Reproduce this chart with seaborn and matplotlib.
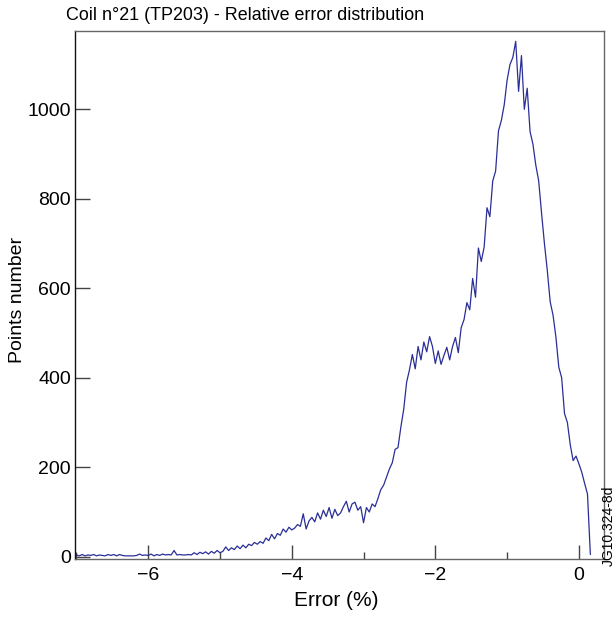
import numpy as np
import pandas as pd
import matplotlib
matplotlib.use("Agg")
import matplotlib.pyplot as plt
import seaborn as sns
from matplotlib.ticker import MultipleLocator
from matplotlib import font_manager

# ---- data (bin start, bin step, counts) ----
bin_start = -7.0
bin_step = 0.04
counts = [
    4, 2, 5, 2, 4, 3, 5, 2, 4, 3,            # -7.00 .. -6.64
    2, 5, 3, 5, 2, 5, 3, 2, 2, 2,            # -6.60 .. -6.24
    2, 3, 6, 3, 4, 3, 6, 2, 5, 3,            # -6.20 .. -5.84
    6, 4, 5, 4, 14, 4, 5, 4, 4, 5,           # -5.80 .. -5.44
    4, 9, 5, 10, 7, 11, 6, 12, 8, 14,        # -5.40 .. -5.04
    9, 12, 22, 14, 20, 16, 24, 18, 26, 20,   # -5.00 .. -4.64
    28, 25, 32, 28, 34, 30, 42, 36, 50, 40,  # -4.60 .. -4.24
    52, 48, 62, 55, 66, 60, 64, 72, 68, 96,  # -4.20 .. -3.84
    62, 80, 88, 78, 98, 84, 104, 90, 110, 86,        # -3.80 .. -3.44
    106, 92, 98, 112, 124, 100, 118, 122, 104, 112,  # -3.40 .. -3.04
    76, 110, 100, 118, 112, 130, 150, 160, 178, 196, # -3.00 .. -2.64
    210, 240, 244, 290, 330, 390, 418, 452, 420, 470,  # -2.60 .. -2.24
    440, 480, 458, 492, 470, 432, 460, 430, 450, 468,  # -2.20 .. -1.84
    440, 470, 490, 456, 512, 530, 568, 552, 622, 580,  # -1.80 .. -1.44
    690, 660, 692, 780, 760, 840, 862, 952, 975, 1010, # -1.40 .. -1.04
    1065, 1100, 1116, 1152, 1040, 1120, 1000, 1047, 950, 922,  # -1.00 .. -0.64
    875, 840, 768, 700, 640, 570, 540, 491, 424, 400,  # -0.60 .. -0.24
    320, 300, 250, 215, 225, 208, 189, 164, 140, 5,    # -0.20 .. 0.16
]
errors = np.round(bin_start + bin_step * np.arange(len(counts)), 2)

title = "Coil n°21 (TP203) - Relative error distribution"
xlabel = "Error (%)"
ylabel = "Points number"
side_note = "JG10.324-8d"
x_major = [-6, -4, -2, 0]
y_major = [0, 200, 400, 600, 800, 1000]

df = pd.DataFrame({"err": errors, "n": counts})

sns.set_theme(style="ticks")
plt.rcParams["font.family"] = ["Liberation Sans", "DejaVu Sans"]
plt.rcParams["text.color"] = "black"

installed = {f.name for f in font_manager.fontManager.ttflist}
title_family = ["Liberation Sans Narrow", "Liberation Sans"] \
    if "Liberation Sans Narrow" in installed else ["Liberation Sans"]

fig = plt.figure(figsize=(6.16, 6.17), dpi=100)
ax = fig.add_axes([75 / 616, 1 - 559 / 617, (604 - 75) / 616, (559 - 31) / 617])

sns.lineplot(data=df, x="err", y="n", ax=ax, color="#2a2e96", linewidth=0.9)

ax.set_xlim(-7.02, 0.35)
ax.set_ylim(-5, 1175)
ax.set_xticks(x_major)
ax.set_xticklabels(["\u22126", "\u22124", "\u22122", "0"])
ax.xaxis.set_minor_locator(MultipleLocator(1))
ax.set_yticks(y_major)
ax.set_yticklabels([str(v) for v in y_major])

ax.tick_params(axis="x", which="major", direction="in", length=10, width=1.0,
               color="#444444", labelsize=14, pad=6, labelcolor="black")
ax.tick_params(axis="x", which="minor", direction="in", length=5, width=1.0,
               color="#444444")
ax.tick_params(axis="y", which="major", direction="in", length=11, width=1.0,
               color="#444444", labelsize=14, pad=3, labelcolor="black")
ax.set_xlabel("")
ax.set_ylabel("")

for side in ["top", "right", "bottom"]:
    ax.spines[side].set_visible(True)
    ax.spines[side].set_color("#666666")
    ax.spines[side].set_linewidth(1.0)
ax.spines["left"].set_color("#111111")
ax.spines["left"].set_linewidth(1.0)

# title: fit to the width it has in the reference (about 359 px)
t = fig.text(66 / 616, 1 - 16 / 617, title, ha="left", va="center",
             fontsize=14, family=title_family)
renderer = fig.canvas.get_renderer()
w = t.get_window_extent(renderer=renderer).width
t.set_fontsize(min(16.5, 14 * 359.0 / w))

fig.text(336 / 616, 1 - 600 / 617, xlabel, ha="center", va="center", fontsize=15)
fig.text(18 / 616, 1 - 300 / 617, ylabel, ha="center", va="center",
         rotation=90, fontsize=14)
fig.text(609 / 616, 1 - 526 / 617, side_note, ha="center", va="center",
         rotation=90, fontsize=10)

fig.savefig("out.png", dpi=100)
